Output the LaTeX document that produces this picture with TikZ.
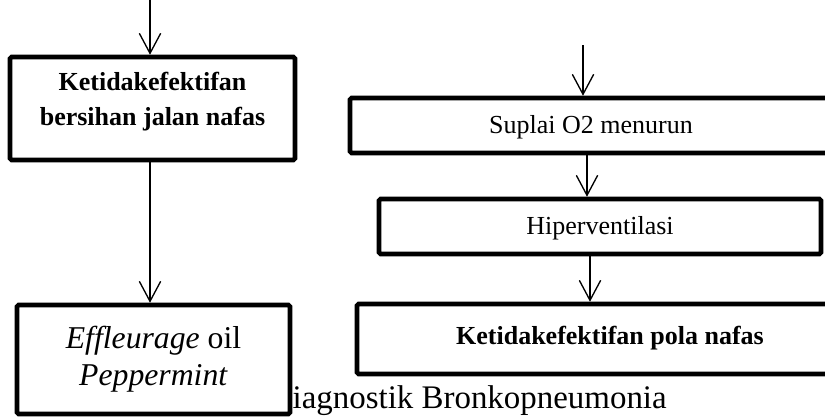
\documentclass[tikz,border=0pt]{standalone}
\usepackage{fontspec}
\setmainfont{Liberation Serif}
\usetikzlibrary{arrows.meta}
\begin{document}
\begin{tikzpicture}[x=0.75pt,y=-0.75pt,
  box/.style={draw, line width=3.4pt, rounded corners=1.2pt, fill=white,
    inner sep=0pt, align=center},
  smalltext/.style={font=\fontsize{19.5}{26.25}\selectfont},
  bigtext/.style={font=\fontsize{23.8}{27.75}\selectfont},
  arr/.style={line width=1pt, -{Straight Barb[length=15pt,width=16pt,line width=1pt]}}]
\useasboundingbox (0,0) rectangle (825,419);
\clip (0,0) rectangle (825,419);

% caption, partly hidden behind the lower-left box
\node[font=\fontsize{24.7}{30}\selectfont, anchor=base east, inner sep=0pt] (cap)
  at (667,408) {Diagnostik Bronkopneumonia};

% left column (the strut gives the last line extra depth, lifting the text)
\node[box, smalltext, minimum width=213.75pt, minimum height=77.25pt] (bers)
  at (152.5,108.5)
  {\textbf{Ketidakefektifan}\\\textbf{bersihan jalan nafas}\rule[-0.75em]{0pt}{0.75em}};
\node[box, bigtext, minimum width=204.75pt, minimum height=81.75pt] (eff)
  at (153.5,359.5) {\textit{Effleurage} oil\\\textit{Peppermint}};

% right column
\node[box, smalltext, minimum width=361.5pt, minimum height=41.25pt,
  text height=1.4em, text depth=0.2em] (sup) at (591,125.5) {Suplai O2 menurun};
\node[box, smalltext, minimum width=331.5pt, minimum height=41.25pt,
  text height=1.4em, text depth=0.2em] (hip) at (600,226.5) {Hiperventilasi};
\node[box, smalltext, minimum width=379.5pt, minimum height=52.5pt,
  text height=0.95em, text depth=0.2em] (pola) at (610,339) {\textbf{Ketidakefektifan pola nafas}};

% connectors
\coordinate (inL) at (150,0);
\coordinate (inR) at (583,45);
\coordinate (xA) at (587,0);
\coordinate (xB) at (590,0);
\draw[arr] (inL) -- (inL |- bers.north);
\draw[arr] (bers.south -| inL) -- (eff.north -| inL);
\draw[arr] (inR) -- (inR |- sup.north);
\draw[arr] (sup.south -| xA) -- (hip.north -| xA);
\draw[arr] (hip.south -| xB) -- (pola.north -| xB);
\end{tikzpicture}
\end{document}
